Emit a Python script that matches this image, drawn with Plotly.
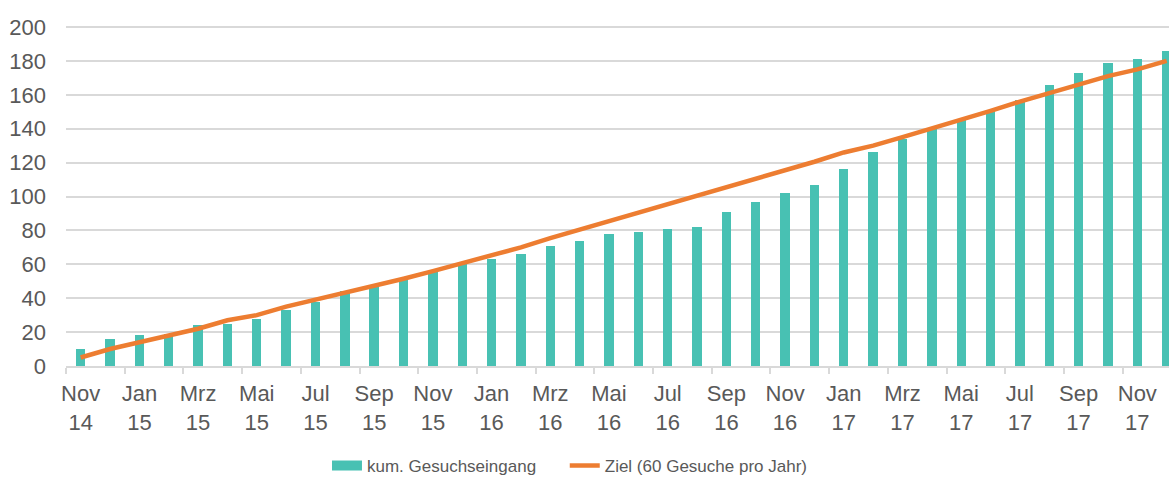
"""
Kumulierter Gesuchseingang vs. Ziel (60 Gesuche pro Jahr)
"""

import plotly.graph_objs as go

# Monate (Kategorien)
months = [
    "Nov 14", "Dez 14",
    "Jan 15", "Feb 15", "Mrz 15", "Apr 15", "Mai 15", "Jun 15",
    "Jul 15", "Aug 15", "Sep 15", "Okt 15", "Nov 15", "Dez 15",
    "Jan 16", "Feb 16", "Mrz 16", "Apr 16", "Mai 16", "Jun 16",
    "Jul 16", "Aug 16", "Sep 16", "Okt 16", "Nov 16", "Dez 16",
    "Jan 17", "Feb 17", "Mrz 17", "Apr 17", "Mai 17", "Jun 17",
    "Jul 17", "Aug 17", "Sep 17", "Okt 17", "Nov 17", "Dez 17",
]

# kum. Gesuchseingang
received = [
    10, 16,
    18, 19, 24, 25, 28, 33, 38, 44, 47, 51, 56, 60,
    63, 66, 71, 74, 78, 79, 81, 82, 91, 97, 102, 107,
    116, 126, 134, 140, 145, 151, 157, 166, 173, 179, 181, 186,
]

# Ziel (60 Gesuche pro Jahr)
target = [
    5, 10,
    14, 18, 22, 27, 30, 35, 39, 43, 47, 51.5, 56, 60.5,
    65.5, 70, 75.5, 80.5, 85, 90, 95, 100.5, 105.5, 110.5, 115.5, 120.5,
    126, 130, 135, 140, 145.5, 150.5, 156, 161, 166, 171, 175, 180,
]

# jeder zweite Monat beschriftet
tick_idx = list(range(0, len(months), 2))
tick_text = [months[i].replace(" ", "<br>") for i in tick_idx]

TEAL = "#48C1B3"
ORANGE = "#ED7D31"
GREY = "#595959"
GRID = "#D9D9D9"

x = list(range(len(months)))

fig = go.Figure()

fig.add_trace(go.Bar(
    x=x,
    y=received,
    width=0.32,
    marker=dict(color=TEAL, line=dict(width=0)),
    name="kum. Gesuchseingang",
    showlegend=False,
))

# legend swatch for bars (wide rectangle like the original)
fig.add_trace(go.Scatter(
    x=[None], y=[None],
    mode="lines",
    line=dict(color=TEAL, width=12),
    name="kum. Gesuchseingang" + "\u00a0" * 5,
))

fig.add_trace(go.Scatter(
    x=x,
    y=target,
    mode="lines",
    line=dict(color=ORANGE, width=4.5),
    name="Ziel (60 Gesuche pro Jahr)",
))

fig.update_layout(
    width=1169,
    height=478,
    margin=dict(l=66, r=0, t=26, b=112, autoexpand=False),
    paper_bgcolor="white",
    plot_bgcolor="white",
    font=dict(family="Liberation Sans, Arial, sans-serif", color=GREY),
    bargap=0,
    legend=dict(
        orientation="h",
        x=0.2366, xanchor="left",
        y=-0.294, yanchor="middle",
        font=dict(size=17, color=GREY),
        itemwidth=30,
        traceorder="normal",
    ),
    xaxis=dict(
        range=[-0.5, 37.08],
        tickmode="array",
        tickvals=tick_idx,
        ticktext=tick_text,
        ticks="",
        tickfont=dict(size=22, color=GREY),
        ticklabelstandoff=7,
        showgrid=False,
        showline=True,
        linecolor=GRID,
        linewidth=1.5,
        zeroline=False,
        minor=dict(
            tickmode="array",
            tickvals=[i - 0.5 for i in tick_idx],
            ticks="outside",
            ticklen=6,
            tickcolor=GRID,
            tickwidth=1.5,
            showgrid=False,
        ),
    ),
    yaxis=dict(
        range=[0, 200.6],
        tickmode="linear",
        tick0=0,
        dtick=20,
        tickfont=dict(size=22, color=GREY),
        ticklabelstandoff=19,
        showgrid=True,
        gridcolor=GRID,
        gridwidth=1.5,
        zeroline=False,
        showline=False,
    ),
)

fig.write_html(
    "out.html",
    config={"displayModeBar": False},
    post_script="document.body.style.margin='0';document.body.style.overflow='hidden';",
)
